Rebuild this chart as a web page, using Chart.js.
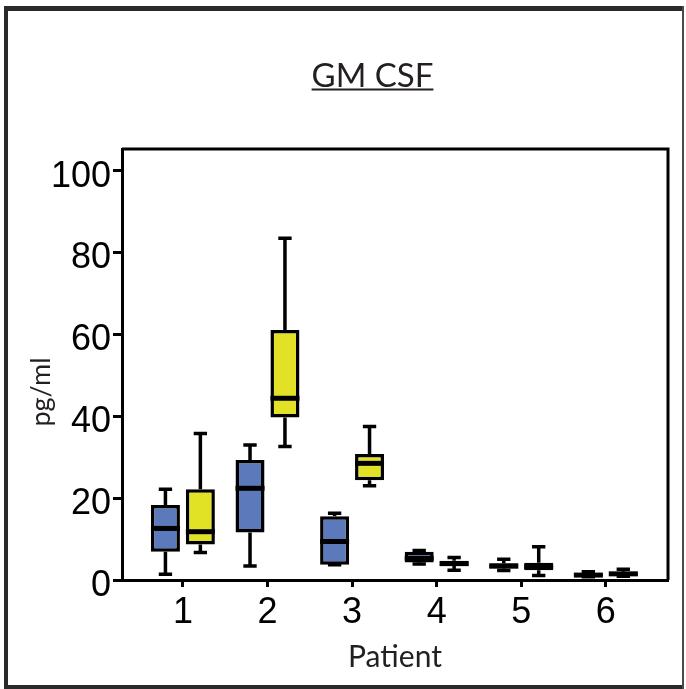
<!DOCTYPE html>
<html>
<head>
<meta charset="utf-8">
<script src="https://cdn.jsdelivr.net/npm/chart.js@4.4.0/dist/chart.umd.min.js"></script>
<style>
html,body{margin:0;padding:0;background:#fff;}
#wrap{width:686px;height:689px;position:relative;}
canvas{display:block;}
</style>
</head>
<body>
<div id="wrap"><canvas id="c" width="686" height="689"></canvas></div>
<script>
// ---- data ----
const patients = [1, 2, 3, 4, 5, 6];
const xTickLabels = ['1', '2', '3', '4', '5', '6'];
const yTickValues = [0, 20, 40, 60, 80, 100];

// blue group (box-and-whisker stats per patient)
const blueMin    = [1.4, 3.4, 3.7, 3.9, 2.3, 0.8];
const blueQ1     = [6.9, 11.6, 3.7, 4.3, 2.8, 0.9];
const blueMedian = [12.6, 22.4, 9.4, 5.3, 3.4, 1.2];
const blueQ3     = [18.3, 29.3, 15.6, 6.9, 4.1, 1.6];
const blueMax    = [22.2, 33.0, 16.3, 7.2, 5.1, 2.0];

// yellow group
const yellowMin    = [6.7, 32.6, 23.0, 2.4, 1.1, 0.9];
const yellowQ1     = [8.7, 39.7, 24.4, 3.4, 2.4, 1.0];
const yellowMedian = [11.8, 44.4, 28.5, 4.0, 3.3, 1.5];
const yellowQ3     = [22.2, 61.1, 30.8, 4.7, 4.2, 2.0];
const yellowMax    = [35.8, 83.5, 37.5, 5.5, 8.1, 2.6];

const chartTitle = 'GM CSF';
const xTitle = 'Patient';
const yTitle = 'pg/ml';

// ---- helpers ----
const toBoxes = (q1, q3) => patients.map((p, i) => ({ x: p, y: [q1[i], q3[i]] }));

const framePlugin = {
  id: 'frame',
  beforeDraw(chart) {
    const ctx = chart.ctx;
    ctx.save();
    ctx.fillStyle = '#fff';
    ctx.fillRect(0, 0, chart.width, chart.height);
    ctx.fillStyle = '#2a2a2a';
    ctx.fillRect(4, 6, 4, 683);     // left
    ctx.fillRect(4, 6, 680, 5);     // top
    ctx.fillRect(4, 685, 680, 4);   // bottom
    ctx.fillStyle = '#4a4a4a';
    ctx.fillRect(682, 6, 2, 683);   // right
    ctx.restore();
  },
  afterDraw(chart) {
    const ctx = chart.ctx;
    const a = chart.chartArea;
    ctx.save();
    // plot box top/right edges
    ctx.strokeStyle = '#000';
    ctx.lineWidth = 3;
    ctx.beginPath();
    ctx.moveTo(a.left, a.top);
    ctx.lineTo(a.right, a.top);
    ctx.lineTo(a.right, a.bottom);
    ctx.stroke();
    // chart title, underlined
    ctx.fillStyle = '#231f20';
    ctx.font = '33px Lato';
    ctx.textAlign = 'center';
    ctx.textBaseline = 'alphabetic';
    ctx.fillText(chartTitle, 372.5, 87);
    const tw = ctx.measureText(chartTitle).width;
    ctx.fillRect(372.5 - tw / 2, 88.5, tw, 2);
    // y axis title
    ctx.translate(41, 392);
    ctx.rotate(-Math.PI / 2);
    ctx.font = '27px Lato';
    ctx.textBaseline = 'middle';
    ctx.fillText(yTitle, 0, 0);
    ctx.restore();
  }
};

const boxPlugin = {
  id: 'boxStats',
  afterDatasetsDraw(chart) {
    const ctx = chart.ctx;
    const y = chart.scales.y;
    chart.data.datasets.forEach((ds, di) => {
      const meta = chart.getDatasetMeta(di);
      meta.data.forEach((bar, i) => {
        const x = bar.x, w = bar.width;
        const pMin = y.getPixelForValue(ds.stats.min[i]);
        const pQ1 = y.getPixelForValue(ds.stats.q1[i]);
        const pMed = y.getPixelForValue(ds.stats.med[i]);
        const pQ3 = y.getPixelForValue(ds.stats.q3[i]);
        const pMax = y.getPixelForValue(ds.stats.max[i]);
        const capW = w * 0.46;
        ctx.save();
        ctx.strokeStyle = '#000';
        ctx.lineCap = 'butt';
        ctx.lineWidth = 3.5;
        ctx.beginPath();
        ctx.moveTo(x, pQ3); ctx.lineTo(x, pMax);
        ctx.moveTo(x, pQ1); ctx.lineTo(x, pMin);
        ctx.stroke();
        ctx.lineWidth = 3.5;
        ctx.beginPath();
        ctx.moveTo(x - capW / 2, pMax); ctx.lineTo(x + capW / 2, pMax);
        ctx.moveTo(x - capW / 2, pMin); ctx.lineTo(x + capW / 2, pMin);
        ctx.stroke();
        ctx.lineWidth = 5;
        ctx.beginPath();
        ctx.moveTo(x - w / 2, pMed); ctx.lineTo(x + w / 2, pMed);
        ctx.stroke();
        ctx.restore();
      });
    });
  }
};

const tickFont = { family: 'Liberation Sans', size: 36 };

new Chart(document.getElementById('c'), {
  type: 'bar',
  data: {
    datasets: [
      {
        label: 'blue',
        data: toBoxes(blueQ1, blueQ3),
        backgroundColor: '#5c79bc',
        borderColor: '#000',
        borderWidth: 3.5,
        borderSkipped: false,
        categoryPercentage: 0.826,
        barPercentage: 0.83,
        stats: { min: blueMin, q1: blueQ1, med: blueMedian, q3: blueQ3, max: blueMax }
      },
      {
        label: 'yellow',
        data: toBoxes(yellowQ1, yellowQ3),
        backgroundColor: '#e1e226',
        borderColor: '#000',
        borderWidth: 3.5,
        borderSkipped: false,
        categoryPercentage: 0.826,
        barPercentage: 0.83,
        stats: { min: yellowMin, q1: yellowQ1, med: yellowMedian, q3: yellowQ3, max: yellowMax }
      }
    ]
  },
  options: {
    responsive: false,
    devicePixelRatio: 1,
    animation: false,
    layout: { padding: { top: 149, right: 18, left: 0, bottom: 0 } },
    plugins: { legend: { display: false }, tooltip: { enabled: false }, title: { display: false } },
    scales: {
      x: {
        type: 'linear',
        offset: false,
        min: 0.28,
        max: 6.735,
        afterBuildTicks: s => { s.ticks = patients.map(v => ({ value: v })); },
        afterFit: s => { s.height = 109; },
        ticks: {
          autoSkip: false, maxRotation: 0, minRotation: 0,
          font: tickFont, color: '#000', padding: 4,
          callback: v => xTickLabels[patients.indexOf(v)]
        },
        grid: { display: true, offset: false, drawOnChartArea: false, drawTicks: true, tickLength: 7, tickWidth: 3, tickColor: '#000' },
        border: { display: true, color: '#000', width: 3 },
        title: { display: true, text: xTitle, font: { family: 'Lato', size: 30 }, color: '#231f20', padding: { top: 0, bottom: 14 } }
      },
      y: {
        type: 'linear',
        min: 0,
        max: 105.3,
        afterBuildTicks: s => { s.ticks = yTickValues.map(v => ({ value: v })); },
        afterFit: s => { s.width = 122; },
        ticks: { font: tickFont, color: '#000', padding: 2, labelOffset: 6 },
        grid: { display: true, drawOnChartArea: false, drawTicks: true, tickLength: 9, tickWidth: 3, tickColor: '#000' },
        border: { display: true, color: '#000', width: 3 }
      }
    }
  },
  plugins: [framePlugin, boxPlugin]
});
</script>
</body>
</html>
